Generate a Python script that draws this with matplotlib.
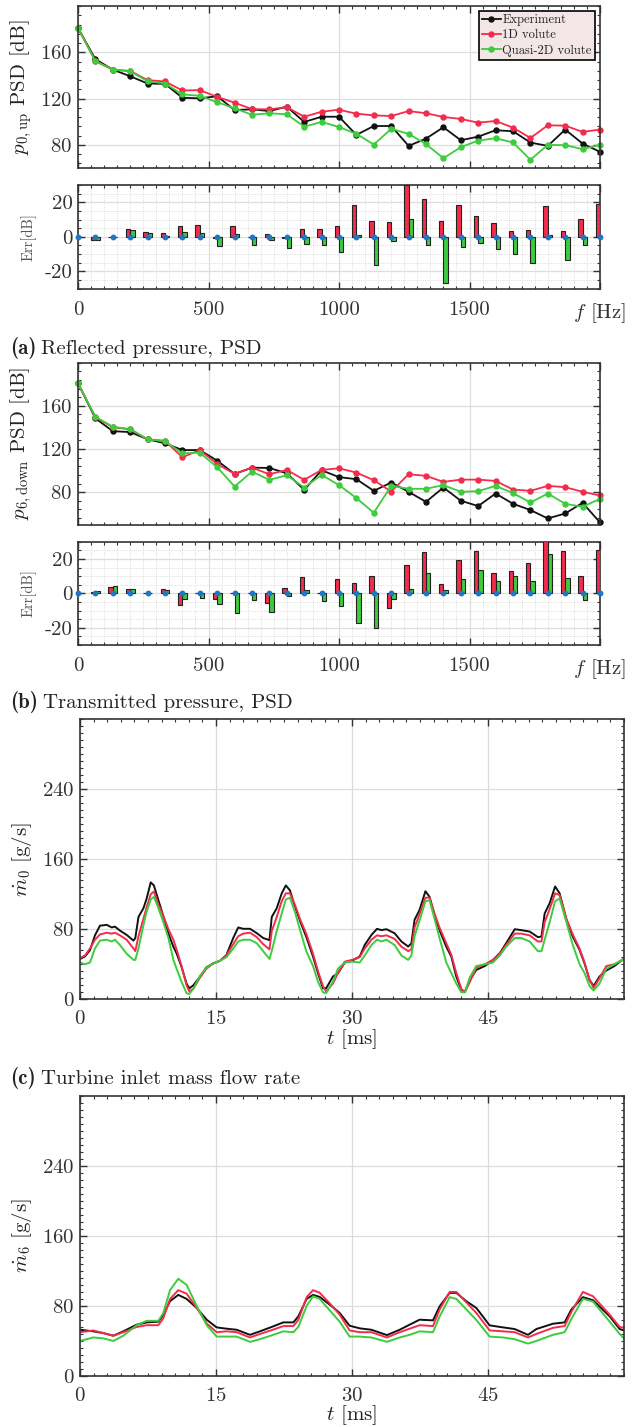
import numpy as np
import matplotlib
matplotlib.use("Agg")
import matplotlib.pyplot as plt
from matplotlib.ticker import MultipleLocator, FixedLocator, FixedFormatter

plt.rcParams.update({
    "font.family": "serif",
    "font.serif": ["cmr10"],
    "mathtext.fontset": "cm",
    "axes.unicode_minus": False,
    "axes.formatter.use_mathtext": True,
    "text.color": "#222222",
    "axes.labelcolor": "#222222",
    "xtick.color": "#333333",
    "ytick.color": "#333333",
})

# ---------------- data ----------------
FREQ = [0, 66.7, 133.3, 200, 266.7, 333.3, 400, 466.7, 533.3, 600, 666.7,
        733.3, 800, 866.7, 933.3, 1000, 1066.7, 1133.3, 1200, 1266.7, 1333.3,
        1400, 1466.7, 1533.3, 1600, 1666.7, 1733.3, 1800, 1866.7, 1933.3, 2000]

EXP_UP = [181, 154, 145, 139.3, 133, 132.7, 120.7, 120.2, 122, 110.1, 110.7,
          109.2, 113, 99.8, 104.3, 104.3, 88.6, 96.3, 96.3, 79.1, 85.4,
          95.2, 84, 87.1, 92.6, 91.8, 82, 79.1, 93.2, 81.1, 74]
ONE_UP = [181, 152.3, 145, 143.9, 135.9, 134.8, 127, 127.3, 121.5, 116.4, 110.9,
          110.7, 112.6, 104.3, 108.6, 110.4, 106.9, 105.5, 104.9, 109.2, 107.3,
          104.1, 102.4, 99.2, 100.6, 94.9, 85.9, 96.9, 96.6, 91.2, 93.2]
Q2D_UP = [181, 152.3, 145, 143.5, 135, 133, 123.6, 122.4, 116.8, 111.6, 106,
          107.3, 106.4, 95.7, 99.8, 95.4, 89.5, 80.3, 93.8, 89.5, 80.6,
          68.5, 78, 83.7, 85.7, 82.1, 67.1, 80, 79.7, 76.3, 80]

EXP_DN = [181, 148.4, 136.5, 135.7, 129, 125.3, 119, 119, 109.2, 96.9, 102.7,
          102.4, 97.5, 82.1, 100.3, 93.9, 92, 81.2, 88.9, 80.3, 71,
          84.3, 72, 67.1, 78.7, 69.2, 63.4, 55.6, 60.2, 70.1, 51.9]
ONE_DN = [181, 149.4, 140.2, 138.2, 129, 127.6, 112.3, 119, 106.1, 96.9, 102.7,
          96.6, 100.6, 91.4, 100.6, 102.1, 98.1, 91.1, 80.5, 96.6, 95.1,
          89.5, 91.6, 91.6, 90.4, 82.4, 81.2, 85.8, 84.6, 80.3, 76.9]
Q2D_DN = [181, 149.9, 140.6, 138.5, 129, 127.1, 116, 116.5, 103.1, 85.2, 99,
          91.4, 95.7, 84.3, 96, 86.5, 74.5, 60.9, 85.8, 83.1, 83.1,
          86.5, 80.3, 80.9, 85.8, 79.1, 70.4, 78.7, 69.2, 66.4, 73.8]

T_C = [0, 0.55, 1.1, 1.65, 2.2, 2.95, 3.5, 3.85, 4.4, 5.15,
       5.9, 6.1, 6.45, 7.0, 7.35, 7.8, 8.15, 8.65, 9.2, 9.75,
       10.3, 10.65, 11.2, 11.75, 12.05, 12.5, 13.25, 13.95, 14.7, 15.45,
       16.15, 16.9, 17.45, 18.0, 18.75, 19.5, 20.2, 20.9, 21.15, 21.7,
       22.25, 22.7, 23.15, 23.7, 24.25, 24.95, 25.7, 26.25, 26.8, 27.15,
       27.9, 28.45, 29.2, 30.0, 30.85, 31.4, 32.15, 32.75, 33.25, 33.8,
       34.7, 35.45, 36.2, 36.55, 36.9, 37.45, 38.1, 38.55, 39.1, 39.65,
       40.4, 40.95, 41.5, 42.05, 42.45, 43.0, 43.7, 44.65, 45.55, 46.3,
       47.0, 47.95, 48.65, 49.6, 50.5, 50.9, 51.25, 51.8, 52.4, 52.9,
       53.65, 54.35, 55.1, 55.65, 56.2, 56.65, 57.3, 58.05, 58.95, 60.0]
M0_EXP = [46, 49, 56, 73, 84, 85, 82, 83, 78.5, 73.5,
          67, 70, 94, 104, 115, 133.5, 130, 113, 94.5, 75,
          60, 52.5, 37, 18, 12.5, 16, 26, 36.5, 41, 44,
          50.5, 70, 82, 80.5, 80.5, 75.5, 70, 67.5, 94, 104,
          121, 130, 124.5, 106, 90, 71.5, 48.8, 29.7, 12.6, 12.6,
          26, 29.7, 42, 44, 48.8, 62, 73.5, 80.4, 79, 80,
          75.4, 66, 60.2, 64, 90.7, 102, 123.4, 117, 96.4, 79,
          60, 48.8, 26, 10.7, 8.8, 22, 33.5, 38, 45, 52.6,
          64, 80, 79, 77.3, 71, 71.6, 98, 109.7, 128.8, 121,
          90.7, 71.6, 56.4, 41, 22, 15.2, 26, 32.8, 38, 46.5]
M0_1D = [47, 50, 58, 68, 74, 76, 75, 76, 73, 68,
         58, 55, 72, 92, 105, 120, 123, 108, 95, 80,
         68, 57, 38, 16, 9, 12, 25, 35, 41, 44,
         50, 63, 72, 75, 76, 71, 63, 57, 78, 94,
         112, 121, 121, 108, 92, 75, 52, 32, 15, 9,
         18, 30, 43, 45, 48, 58, 68, 73, 72, 73,
         69, 60, 55, 57, 82, 97, 116, 116, 98, 82,
         64, 51, 30, 12, 8, 20, 36, 40, 45, 52,
         62, 75, 75, 73, 66, 66, 88, 103, 121, 119,
         92, 74, 58, 42, 22, 13, 24, 38, 40, 46]
M0_Q2D = [42, 40, 42, 58, 67, 68, 66, 68, 62, 52,
          45, 45, 58, 85, 100, 114, 117, 104, 88, 70,
          45, 35, 20, 7, 6, 12, 27, 36, 41, 44,
          48, 58, 66, 68, 68, 64, 55, 46, 55, 78,
          98, 114, 116, 100, 80, 55, 38, 20, 8, 7,
          20, 35, 42, 43, 42, 50, 62, 68, 66, 68,
          62, 50, 45, 50, 72, 90, 112, 113, 92, 70,
          42, 30, 18, 8, 8, 25, 38, 40, 42, 50,
          60, 70, 70, 66, 55, 55, 68, 88, 112, 115,
          88, 62, 40, 30, 15, 10, 18, 35, 40, 46]

T_D = [0, 1.47, 2.57, 3.68, 4.78, 6.25, 7.35, 8.64, 9.19, 9.93,
       10.84, 11.76, 12.87, 13.97, 15.07, 16.17, 17.28, 18.75, 19.85, 21.32,
       22.42, 23.53, 24.08, 25.0, 25.7, 26.43, 27.54, 28.64, 29.74, 30.85,
       32.13, 33.86, 35.26, 36.36, 37.46, 38.93, 39.67, 40.77, 41.51, 42.61,
       43.71, 45.18, 46.65, 47.94, 49.41, 50.33, 52.17, 53.45, 54.19, 55.47,
       56.58, 58.42, 59.52, 60]
M6_EXP = [52.8, 51, 49, 46, 51, 58.6, 61.2, 62, 70, 85.4,
          92.6, 88, 77.7, 64.3, 55.5, 54, 52.8, 47, 51, 56.7,
          61.2, 61.2, 68, 88, 92.6, 90.3, 81.5, 72, 57.4, 54.4,
          52.8, 46.7, 52.8, 58.6, 64.3, 63.5, 79.6, 94.9, 94.9, 85.4,
          77.7, 57.8, 55.5, 53.6, 47, 53.6, 59.7, 61.2, 75.8, 90,
          86.5, 68.1, 53.6, 52]
M6_1D = [50, 52, 49, 46, 50, 56, 58, 58, 66, 88,
         98, 94, 78, 60, 50, 51, 50, 44, 48, 53,
         57, 57, 64, 90, 98, 95, 83, 70, 52, 50,
         50, 44, 50, 54, 58, 57, 76, 96, 96, 84,
         72, 52, 51, 50, 44, 48, 55, 57, 73, 96,
         91, 70, 56, 55]
M6_Q2D = [40, 44, 43, 40, 46, 58, 63, 63, 72, 98,
          111, 104, 80, 58, 45, 45, 45, 39, 42, 47,
          51, 50, 56, 80, 91, 88, 75, 62, 45, 45,
          44, 39, 44, 47, 51, 50, 68, 90, 88, 76,
          64, 45, 44, 42, 37, 40, 47, 50, 65, 88,
          85, 62, 48, 43]

LABELS = ["Experiment", "1D volute", "Quasi-2D volute"]
COLORS = ["#111111", "#F42C4C", "#3CCC3C"]

# ---------------- layout ----------------
W, H = 636, 1427
fig = plt.figure(figsize=(W / 100, H / 100), dpi=100)


def ax_px(l, t, r, b):
    return fig.add_axes([l / W, 1 - b / H, (r - l) / W, (b - t) / H])


def style(ax, xmaj, xmin, ymaj, ymin, minor_grid=False):
    ax.xaxis.set_major_locator(MultipleLocator(xmaj))
    ax.xaxis.set_minor_locator(MultipleLocator(xmin))
    ax.yaxis.set_major_locator(MultipleLocator(ymaj))
    ax.yaxis.set_minor_locator(MultipleLocator(ymin))
    ax.tick_params(which="both", direction="in", top=True, right=True,
                   labelsize=15, pad=4)
    ax.tick_params(which="major", length=5, width=1.0)
    ax.tick_params(which="minor", length=2.5, width=0.8)
    for s in ax.spines.values():
        s.set_linewidth(1.2)
        s.set_color("#333333")
    ax.grid(which="major", color="#dddddd", lw=0.9)
    if minor_grid:
        ax.grid(which="minor", color="#d0d0d0", lw=0.6, ls=":")
    ax.set_axisbelow(True)


def psd_panel(top, errtop, exp, one, q2d, ylab, ymin, legend=False):
    ax = ax_px(78, top[0], 600, top[1])
    f = np.array(FREQ)
    for y, c, lab in zip([exp, one, q2d], COLORS, LABELS):
        ax.plot(f, y, "-o", color=c, lw=1.3, ms=3.6, label=lab, clip_on=False)
    ax.set_xlim(0, 2000)
    ax.set_ylim(ymin, 200)
    style(ax, 500, 50, 40, 8)
    ax.set_yticks([80, 120, 160])
    ax.tick_params(labelbottom=False)
    ax.set_ylabel(ylab, fontsize=15, labelpad=4)
    if legend:
        leg = ax.legend(loc="upper right", fontsize=9, frameon=True,
                        fancybox=False, edgecolor="black", facecolor="#f2e6e6",
                        framealpha=1, handlelength=1.5, handletextpad=0.15,
                        labelspacing=0.25, borderpad=0.25, borderaxespad=0.4)
        leg.get_frame().set_linewidth(1.2)

    ae = ax_px(78, errtop[0], 600, errtop[1])
    e1 = np.array(one) - np.array(exp)
    e2 = np.array(q2d) - np.array(exp)
    ae.bar(f, e1, width=-16.7, align="edge", color=COLORS[1],
           edgecolor="#222222", lw=0.8, zorder=3)
    ae.bar(f, e2, width=16.7, align="edge", color=COLORS[2],
           edgecolor="#222222", lw=0.8, zorder=3)
    ae.plot(f, np.array(exp) - np.array(exp), "o", color="#1f77c4", ms=3.2,
            zorder=4, clip_on=False)
    ae.set_xlim(0, 2000)
    ae.set_ylim(-30, 30)
    style(ae, 500, 50, 20, 5, minor_grid=True)
    ae.xaxis.set_major_locator(FixedLocator([0, 500, 1000, 1500, 2000]))
    ae.xaxis.set_major_formatter(FixedFormatter(["0", "500", "1000", "1500",
                                                 "$f$ [Hz]"]))
    ae.yaxis.set_major_locator(FixedLocator([-20, 0, 20]))
    ae.yaxis.set_major_formatter(FixedFormatter(["-20", "0", "20"]))
    ae.tick_params(axis="x", pad=9)
    ae.set_ylabel("Err[dB]", fontsize=10.5, color="#555555", labelpad=6)
    return ax, ae


psd_panel((6, 168), (185, 288.7), EXP_UP, ONE_UP, Q2D_UP,
          r"$p_{0,\mathrm{up}}$ PSD [dB]", 60, legend=True)
psd_panel((362.7, 524.5), (541.7, 645), EXP_DN, ONE_DN, Q2D_DN,
          r"$p_{6,\mathrm{down}}$ PSD [dB]", 50)


def ts_panel(top, bot, t, ys, ylab, lpad):
    ax = ax_px(80, top, 624, bot)
    for y, c in zip(ys, COLORS):
        ax.plot(t, y, "-", color=c, lw=1.4)
    ax.set_xlim(0, 60)
    ax.set_ylim(0, 320)
    style(ax, 15, 1.5, 80, 8)
    ax.xaxis.set_major_locator(FixedLocator([0, 15, 30, 45]))
    ax.set_yticks([0, 80, 160, 240])
    ax.set_ylabel(ylab, fontsize=15, labelpad=6)
    ax.set_xlabel(r"$t$ [ms]", fontsize=15, labelpad=lpad)
    ax.tick_params(axis="x", pad=8)
    return ax


ts_panel(719, 999.3, T_C, [M0_EXP, M0_1D, M0_Q2D], r"$\dot{m}_0$ [g/s]", -0.5)
ts_panel(1095.7, 1376, T_D, [M6_EXP, M6_1D, M6_Q2D], r"$\dot{m}_6$ [g/s]", -1.5)

caps = [(354, "(a)", "Reflected pressure, PSD"),
        (708, "(b)", "Transmitted pressure, PSD"),
        (1084, "(c)", "Turbine inlet mass flow rate")]
fig.canvas.draw()
renderer = fig.canvas.get_renderer()
for y, tag, s in caps:
    t1 = fig.text(10 / W, 1 - y / H, tag, fontsize=15, va="baseline",
                  ha="left", fontfamily="cmb10")
    bb = t1.get_window_extent(renderer)
    fig.text((bb.x1 + 5) / W, 1 - y / H, s, fontsize=15, va="baseline",
             ha="left")

fig.savefig("out.png", dpi=100)
